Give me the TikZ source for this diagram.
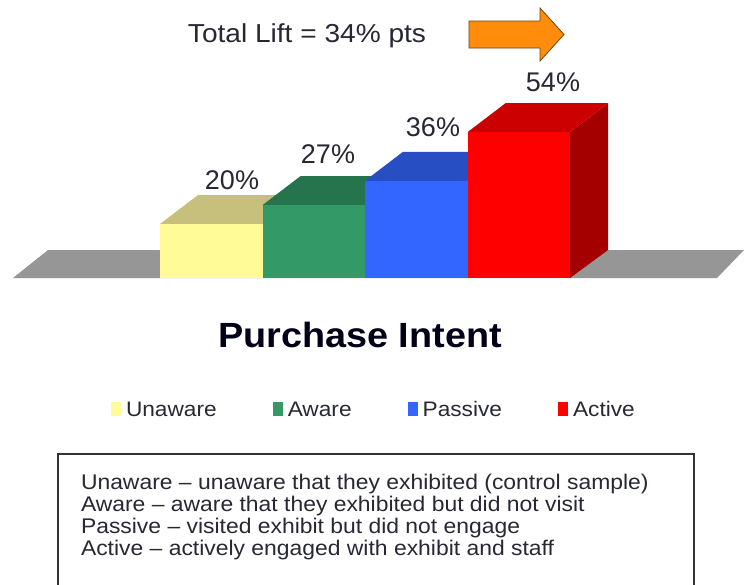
\documentclass[tikz,border=0pt]{standalone}
\usepackage{fontspec}
\setmainfont{Liberation Sans}
\newfontfamily\wide[FakeStretch=1.08,Ligatures=TeX]{Liberation Sans}
\usetikzlibrary{positioning,calc}

\definecolor{floorgray}{RGB}{150,150,150}
\definecolor{unawareF}{RGB}{255,251,150}
\definecolor{unawareT}{RGB}{198,192,124}
\definecolor{awareF}{RGB}{51,153,102}
\definecolor{awareT}{RGB}{38,116,78}
\definecolor{passiveF}{RGB}{51,102,255}
\definecolor{passiveT}{RGB}{40,78,196}
\definecolor{activeF}{RGB}{255,0,0}
\definecolor{activeT}{RGB}{204,0,0}
\definecolor{activeS}{RGB}{165,0,0}
\definecolor{liftorange}{RGB}{255,140,10}
\definecolor{liftedge}{RGB}{110,70,10}
\definecolor{inktext}{RGB}{40,40,52}

\begin{document}
\begin{tikzpicture}[x=1pt,y=-1pt]
\tikzstyle{every node}=[inner sep=0pt,outer sep=0pt,text=inktext]
\tikzstyle{pct}=[font=\fontsize{27}{27}\selectfont]
\tikzstyle{keybox}=[minimum width=10pt,minimum height=14pt]
\tikzstyle{keytext}=[font=\wide\fontsize{21}{21}\selectfont]
\tikzstyle{defline}=[font=\wide\fontsize{21.2}{22}\selectfont,anchor=base west]

\useasboundingbox (0,0) rectangle (744,584);
\fill[white] (0,0) rectangle (744,584);
\clip (0,0) rectangle (744,584);

\node[font=\wide\fontsize{26}{26}\selectfont] (lift) at (307,36) {Total Lift = 34\% pts};
\draw[fill=liftorange,draw=liftedge,line width=0.8pt]
  (469,21) -- (540,21) -- (540,8) -- (564,34.5) -- (540,61) -- (540,48) -- (469,48) -- cycle;

\fill[floorgray] (13,278) -- (48,250) -- (744,250) -- (717,278) -- cycle;

\foreach \i/\val/\fc/\tc/\sc/\lx/\ly in {0/20/unawareF/unawareT/unawareT/232/180,
    1/27/awareF/awareT/awareT/328/154, 2/36/passiveF/passiveT/passiveT/433/127,
    3/54/activeF/activeT/activeS/553/82} {
  \pgfmathsetmacro\xl{160+102.5*\i}
  \pgfmathsetmacro\xr{\xl+102.5}
  \pgfmathsetmacro\yt{278-2.7*\val}
  \fill[\sc] (\xr,278) -- (\xr+38,250) -- (\xr+38,\yt-29) -- (\xr,\yt) -- cycle;
  \fill[\tc] (\xl,\yt) -- (\xl+38,\yt-29) -- (\xr+38,\yt-29) -- (\xr,\yt) -- cycle;
  \fill[\fc] (\xl,278) rectangle (\xr,\yt);
  \node[pct] (lbl\i) at (\lx,\ly) {\val\%};
}

\node[font=\wide\bfseries\fontsize{35}{35}\selectfont,text=black!90!blue] (title) at (360,335) {Purchase Intent};

\node[keybox,fill=unawareF] (kU) at (116,409) {};
\node[keytext,right=5pt of kU] (tU) {Unaware};
\node[keybox,fill=awareF,right=56pt of tU] (kA) {};
\node[keytext,right=5pt of kA] (tA) {Aware};
\node[keybox,fill=passiveF,right=56pt of tA] (kP) {};
\node[keytext,right=5pt of kP] (tP) {Passive};
\node[keybox,fill=activeF,right=56pt of tP] (kC) {};
\node[keytext,right=5pt of kC] (tC) {Active};

\draw[line width=1.5pt,draw=black!80] (58,454) rectangle (694,600);
\node[defline] (d1) at (81,489) {Unaware – unaware that they exhibited (control sample)};
\node[defline] (d2) at (81,511) {Aware – aware that they exhibited but did not visit};
\node[defline] (d3) at (81,533) {Passive – visited exhibit but did not engage};
\node[defline] (d4) at (81,555) {Active – actively engaged with exhibit and staff};
\end{tikzpicture}
\end{document}
